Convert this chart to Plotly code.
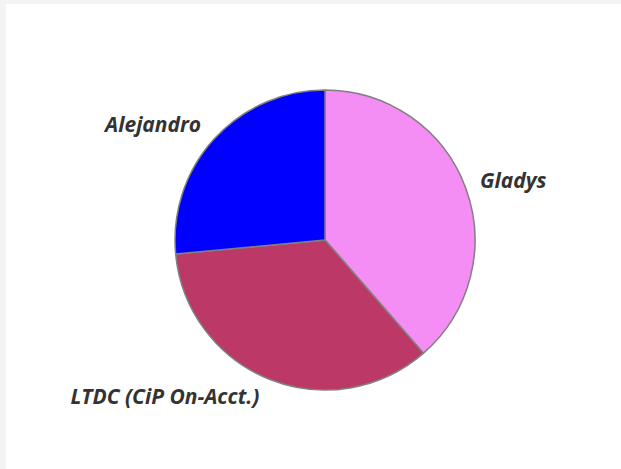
import plotly.graph_objects as go

labels = ["Gladys", "LTDC (CiP On-Acct.)", "Alejandro"]
values = [38.6, 34.9, 26.5]
colors = ["#f48ef4", "#bc3866", "#0000ff"]

W, H = 621, 469
cx, cy, r = 325, 240, 150
r_lbl = 158   # radius at which the outside labels are anchored
cy_lbl = 237  # vertical centre of the label ring


def dom(rad, ccy):
    return dict(x=[(cx - rad) / W, (cx + rad) / W], y=[(H - ccy - rad) / H, (H - ccy + rad) / H])


fig = go.Figure()
# slices
fig.add_trace(go.Pie(
    labels=labels, values=values, sort=False, direction="clockwise", rotation=0,
    marker=dict(colors=colors, line=dict(color="#808080", width=1.5)),
    textinfo="none", showlegend=False, hoverinfo="skip", domain=dom(r, cy),
))
# labels (same data, transparent wedges, slightly larger radius)
fig.add_trace(go.Pie(
    labels=labels, values=values, sort=False, direction="clockwise", rotation=0,
    marker=dict(colors=["rgba(0,0,0,0)"] * len(labels), line=dict(width=0)),
    textinfo="label", textposition="outside",
    textfont=dict(family="Open Sans", size=21, color="#333333", weight="bold", style="italic"),
    showlegend=False, hoverinfo="skip", domain=dom(r_lbl, cy_lbl),
))

fig.update_layout(
    width=W, height=H,
    margin=dict(l=0, r=0, t=0, b=0),
    paper_bgcolor="#f3f3f3",
    plot_bgcolor="white",
    shapes=[dict(type="rect", xref="paper", yref="paper", x0=6 / W, x1=1.2, y0=-0.2, y1=1 - 4 / H,
                 fillcolor="white", line=dict(width=0), layer="below")],
)

fig.write_html("out.html", config={"displayModeBar": False},
               post_script="document.body.style.margin='0';")
